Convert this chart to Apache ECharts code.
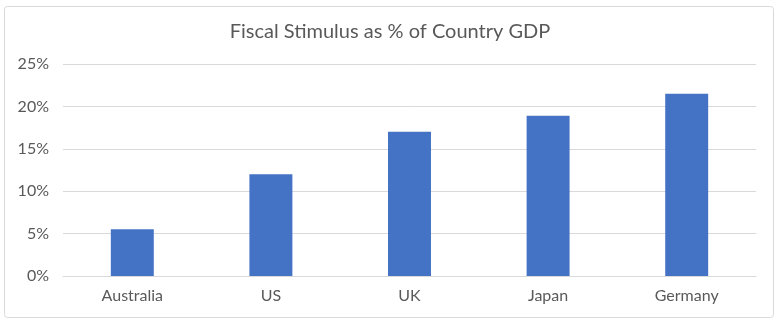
<!DOCTYPE html>
<html>
<head>
<meta charset="utf-8">
<script src="https://cdn.jsdelivr.net/npm/echarts@6/dist/echarts.min.js"></script>
<style>
html,body{margin:0;padding:0;background:#fff;}
#chart{width:780px;height:327px;}
</style>
</head>
<body>
<div id="chart"></div>
<script>
const titleText = "Fiscal Stimulus as % of Country GDP";
const categories = ["Australia", "US", "UK", "Japan", "Germany"];
const stimulusPct = [5.5, 12.0, 17.0, 18.9, 21.5];
const yMin = 0, yMax = 25, yStep = 5;

const chart = echarts.init(document.getElementById('chart'));
const fontFam = 'Lato, "Open Sans", sans-serif';
chart.setOption({
  animation: false,
  backgroundColor: '#ffffff',
  graphic: [{
    type: 'rect',
    shape: {x: 4.5, y: 6.5, width: 769, height: 311, r: 3},
    style: {fill: 'none', stroke: '#d9d9d9', lineWidth: 1},
    silent: true
  }],
  title: {
    text: titleText,
    left: 'center',
    top: 17,
    textStyle: {fontFamily: fontFam, fontSize: 20, fontWeight: 'normal', color: '#595959'}
  },
  grid: {left: 63, right: 24, top: 64, bottom: 51},
  xAxis: {
    type: 'category',
    data: categories,
    axisLine: {lineStyle: {color: '#d9d9d9'}},
    axisTick: {show: false},
    axisLabel: {fontFamily: fontFam, fontSize: 16, color: '#595959', margin: 12}
  },
  yAxis: {
    type: 'value',
    min: yMin, max: yMax, interval: yStep,
    axisLine: {show: false},
    axisTick: {show: false},
    splitLine: {lineStyle: {color: '#d9d9d9'}},
    axisLabel: {fontFamily: fontFam, fontSize: 16, color: '#595959', margin: 14, formatter: v => v + '%'}
  },
  series: [{
    type: 'bar',
    data: stimulusPct,
    barWidth: '31%',
    itemStyle: {color: '#4472C4'}
  }]
});
</script>
</body>
</html>
